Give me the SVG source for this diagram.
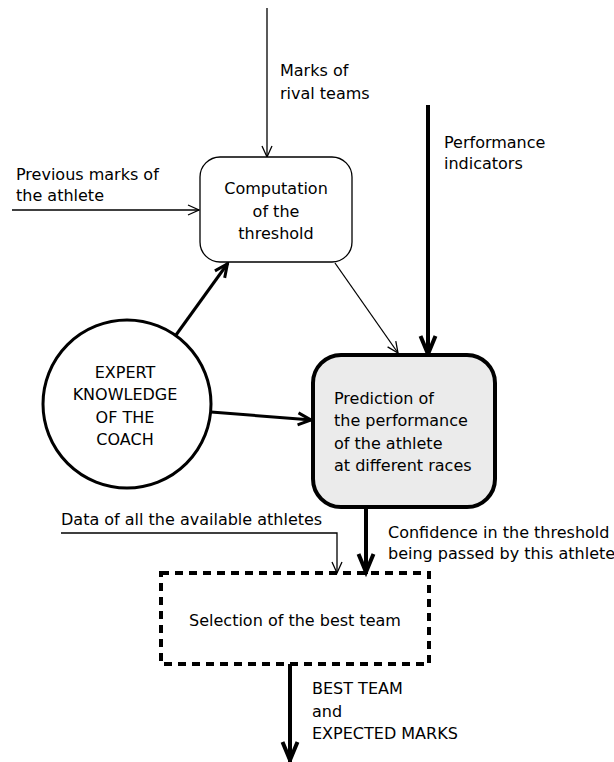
<svg xmlns="http://www.w3.org/2000/svg" width="614" height="762" viewBox="0 0 614 762">
<style>
text{font-family:"DejaVu Sans","Liberation Sans",sans-serif;font-size:16px;fill:#000}
.c{text-anchor:middle}
.thin{stroke:#000;stroke-width:1.3;fill:none}
.mid{stroke:#000;stroke-width:3;fill:none}
.thick{stroke:#000;stroke-width:4;fill:none}
</style>
<defs>
<marker id="aThin" markerUnits="userSpaceOnUse" markerWidth="30" markerHeight="30" viewBox="-15 -15 30 30" refX="0" refY="0" orient="auto" overflow="visible">
<path d="M-11,-5 L0,0 L-11,5" fill="none" stroke="#000" stroke-width="1.3"/>
</marker>
<marker id="aMid" markerUnits="userSpaceOnUse" markerWidth="40" markerHeight="40" viewBox="-20 -20 40 40" refX="0" refY="0" orient="auto" overflow="visible">
<path d="M-14,-6 L-1,0 L-14,6" fill="none" stroke="#000" stroke-width="3"/>
</marker>
<marker id="aThick" markerUnits="userSpaceOnUse" markerWidth="50" markerHeight="50" viewBox="-25 -25 50 50" refX="0" refY="0" orient="auto" overflow="visible">
<path d="M-20,-7.5 L-2,0 L-20,7.5" fill="none" stroke="#000" stroke-width="4"/>
</marker>
</defs>
<g id="connectors">
<line class="thin" x1="267" y1="8" x2="267" y2="157" marker-end="url(#aThin)"/>
<line class="thin" x1="12" y1="210" x2="199" y2="210" marker-end="url(#aThin)"/>
<line class="thick" x1="428" y1="105" x2="428" y2="356" marker-end="url(#aThick)"/>
<line class="thin" x1="335" y1="263" x2="398" y2="353" marker-end="url(#aThin)"/>
<line class="mid" x1="176" y1="335" x2="228" y2="263" marker-end="url(#aMid)"/>
<line class="mid" x1="211" y1="412" x2="312" y2="420" marker-end="url(#aMid)"/>
<polyline class="thin" points="61,533 337,533 337,573" marker-end="url(#aThin)"/>
<line class="thick" x1="366" y1="507" x2="366" y2="574" marker-end="url(#aThick)"/>
<line class="thick" x1="290" y1="664" x2="290" y2="762" marker-end="url(#aThick)"/>
</g>
<g id="labels">
<text x="280" y="76">Marks of</text>
<text x="280" y="99">rival teams</text>
<text x="444" y="148">Performance</text>
<text x="444" y="169">indicators</text>
<text x="16" y="180">Previous marks of</text>
<text x="16" y="201">the athlete</text>
<text x="61" y="525">Data of all the available athletes</text>
<text x="388" y="538">Confidence in the threshold</text>
<text x="388" y="559">being passed by this athlete</text>
<text x="312" y="694">BEST TEAM</text>
<text x="312" y="717">and</text>
<text x="312" y="739">EXPECTED MARKS</text>
</g>
<g id="computation">
<rect x="200" y="157" width="152" height="105" rx="20" fill="#fff" stroke="#000" stroke-width="1.3"/>
<text class="c" x="276" y="194">Computation</text>
<text class="c" x="276" y="217">of the</text>
<text class="c" x="276" y="239">threshold</text>
</g>
<g id="expert">
<circle cx="127" cy="404" r="84" fill="#fff" stroke="#000" stroke-width="3"/>
<text class="c" x="125" y="378">EXPERT</text>
<text class="c" x="125" y="400">KNOWLEDGE</text>
<text class="c" x="125" y="423">OF THE</text>
<text class="c" x="125" y="445">COACH</text>
</g>
<g id="prediction">
<rect x="313" y="355" width="182" height="152" rx="28" fill="#ebebeb" stroke="#000" stroke-width="4"/>
<text x="334" y="404">Prediction of</text>
<text x="334" y="426">the performance</text>
<text x="334" y="449">of the athlete</text>
<text x="334" y="471">at different races</text>
</g>
<g id="selection">
<rect x="161" y="573" width="268" height="91" fill="none" stroke="#000" stroke-width="4" stroke-dasharray="8,6"/>
<text class="c" x="295" y="626">Selection of the best team</text>
</g>
</svg>
